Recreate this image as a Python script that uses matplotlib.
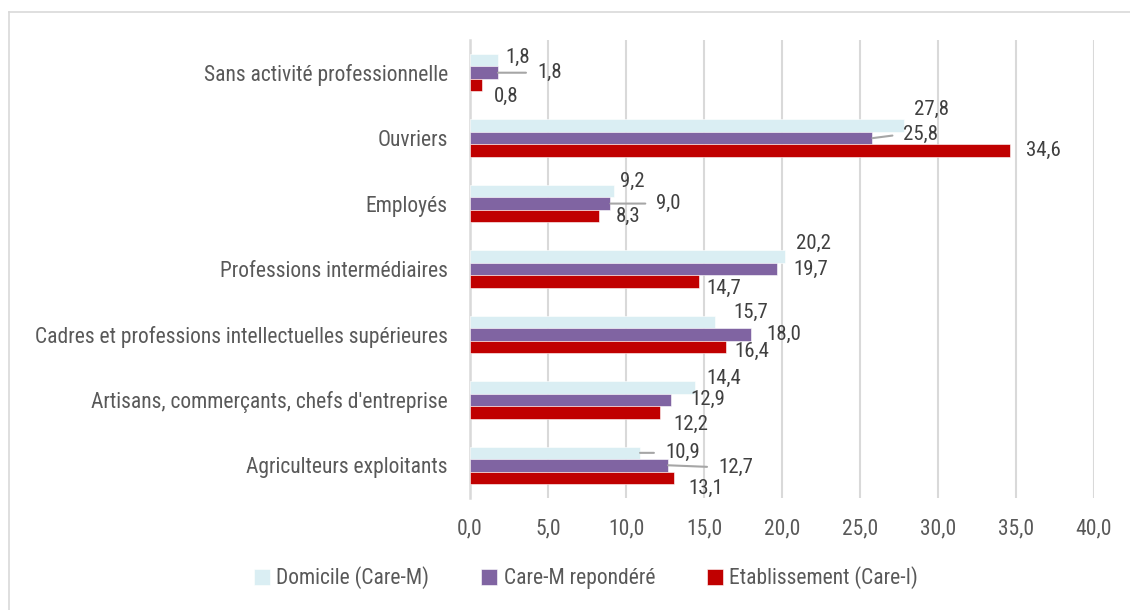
import numpy as np
import matplotlib
matplotlib.use("Agg")
import matplotlib.pyplot as plt
from matplotlib import font_manager
from matplotlib.lines import Line2D

TEXT = "#595959"
GRID = "#D9D9D9"

categories = [
    "Sans activité professionnelle",
    "Ouvriers",
    "Employés",
    "Professions intermédiaires",
    "Cadres et professions intellectuelles supérieures",
    "Artisans, commerçants, chefs d'entreprise",
    "Agriculteurs exploitants",
]
series_names = ["Domicile (Care-M)", "Care-M repondéré", "Etablissement (Care-I)"]
domicile = [1.8, 27.8, 9.2, 20.2, 15.7, 14.4, 10.9]
care_m = [1.8, 25.8, 9.0, 19.7, 18.0, 12.9, 12.7]
etab = [0.8, 34.6, 8.3, 14.7, 16.4, 12.2, 13.1]
colors = ["#DAEEF3", "#8064A2", "#C00000"]

# label nudges in pixels (dx right, dy up) from the default "outside end" spot, plus leader flag
nudges = [
    [(-9, 3, False), (23, 0, True), (-5, -11, False)],
    [(-6, 16, False), (15, 4, True), (0, 0, False)],
    [(-10, 10, False), (30, 0, True), (0, 0, False)],
    [(-5, 13, False), (0, 0, False), (-9, -7, False)],
    [(2, 10, False), (0, 0, False), (-7, -5, False)],
    [(-4, 9, False), (3, 0, False), (-3, -12, False)],
    [(9, 0, True), (34, -2, True), (-2, -11, False)],
]

# narrow font if there is one, else plain Liberation Sans a bit smaller
narrow = None
for fam in ["Liberation Sans Narrow", "Roboto Condensed", "DejaVu Sans Condensed"]:
    try:
        font_manager.findfont(fam, fallback_to_default=False)
        narrow = fam
        break
    except Exception:
        pass
if narrow:
    plt.rcParams["font.family"] = [narrow, "DejaVu Sans"]
    fs, fs_lab = 15.5, 15
else:
    plt.rcParams["font.family"] = ["Liberation Sans", "DejaVu Sans"]
    fs, fs_lab = 14.2, 13.5

fig = plt.figure(figsize=(11.3, 6.1), dpi=100)
ax = fig.add_axes([470 / 1130, 1 - 498 / 610, 624 / 1130, 458 / 610])

y = np.arange(len(categories))
h = 0.19
all_vals = [domicile, care_m, etab]
for k, vals in enumerate(all_vals):
    ax.barh(y + (k - 1) * h, vals, height=h, color=colors[k], label=series_names[k],
            edgecolor="white", linewidth=0.4, zorder=3)

for i in range(len(categories)):
    for k, vals in enumerate(all_vals):
        dx, dy, leader = nudges[i][k]
        v = vals[i]
        txt = f"{v:.1f}".replace(".", ",")
        kw = {}
        if leader:
            kw["arrowprops"] = dict(arrowstyle="-", color="#A6A6A6", lw=1.5,
                                    shrinkA=6, shrinkB=0, relpos=(0, 0.5))
        ax.annotate(txt, xy=(v, y[i] + (k - 1) * h), xytext=(16 + dx, dy),
                    textcoords="offset pixels", ha="left", va="center",
                    color="#404040", fontsize=fs_lab, **kw)

ax.set_xlim(0, 40)
ax.set_ylim(len(categories) - 0.5, -0.5)
ticks = np.arange(0, 41, 5)
ax.set_xticks(ticks)
ax.set_xticklabels([f"{t:.1f}".replace(".", ",") for t in ticks], fontsize=fs)
ax.set_yticks(y)
ax.set_yticklabels(categories, fontsize=fs)
ax.tick_params(axis="x", length=0, pad=15, colors=TEXT)
ax.tick_params(axis="y", length=0, pad=16, colors=TEXT)
ax.xaxis.grid(True, color=GRID, lw=1.5, zorder=0)
ax.set_axisbelow(True)
for s in ["top", "right", "bottom"]:
    ax.spines[s].set_visible(False)
ax.spines["left"].set_color(GRID)
ax.spines["left"].set_linewidth(1.8)

fig.legend(loc="center", bbox_to_anchor=(586 / 1130, 1 - 578 / 610), ncol=3,
           frameon=False, handlelength=0.75, handleheight=0.75, handletextpad=0.3,
           columnspacing=2.4, labelcolor=TEXT, fontsize=fs)

# chart-area frame (top and left edges visible)
fig.add_artist(Line2D([9 / 1130, 1], [1 - 12 / 610, 1 - 12 / 610], color=GRID, lw=1.2))
fig.add_artist(Line2D([9 / 1130, 9 / 1130], [0, 1 - 12 / 610], color=GRID, lw=1.2))

fig.savefig("out.png", dpi=100)
